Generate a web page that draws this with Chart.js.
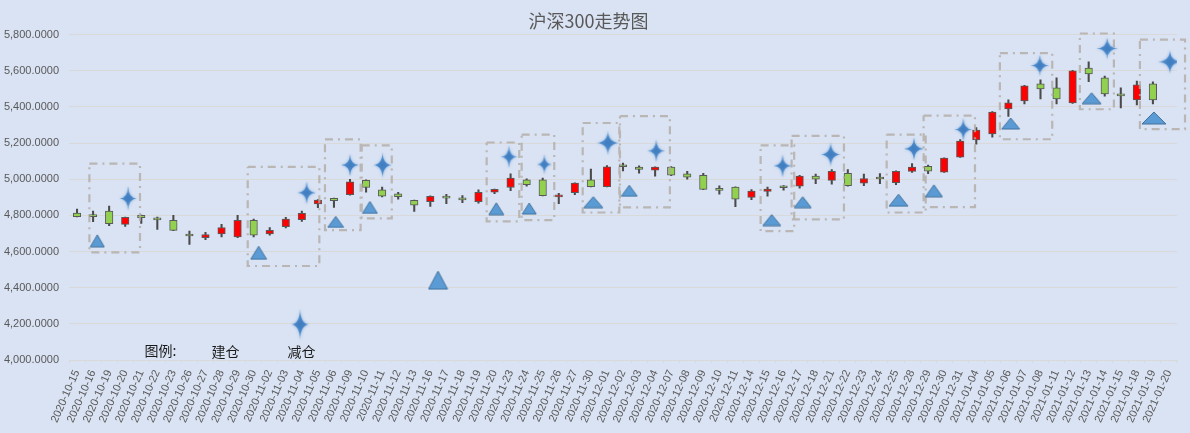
<!DOCTYPE html>
<html>
<head>
<meta charset="utf-8">
<script src="https://cdn.jsdelivr.net/npm/chart.js@4.4.1/dist/chart.umd.min.js"></script>
<style>
  html, body { margin: 0; padding: 0; background: #DAE3F3; }
  canvas { display: block; }
</style>
</head>
<body>
<canvas id="kline" width="1190" height="433"></canvas>
<script>
// trading days
const dates = [
  '2020-10-15','2020-10-16','2020-10-19','2020-10-20','2020-10-21','2020-10-22','2020-10-23','2020-10-26','2020-10-27','2020-10-28','2020-10-29','2020-10-30',
  '2020-11-02','2020-11-03','2020-11-04','2020-11-05','2020-11-06','2020-11-09','2020-11-10','2020-11-11','2020-11-12','2020-11-13','2020-11-16','2020-11-17',
  '2020-11-18','2020-11-19','2020-11-20','2020-11-23','2020-11-24','2020-11-25','2020-11-26','2020-11-27','2020-11-30',
  '2020-12-01','2020-12-02','2020-12-03','2020-12-04','2020-12-07','2020-12-08','2020-12-09','2020-12-10','2020-12-11','2020-12-14','2020-12-15','2020-12-16',
  '2020-12-17','2020-12-18','2020-12-21','2020-12-22','2020-12-23','2020-12-24','2020-12-25','2020-12-28','2020-12-29','2020-12-30','2020-12-31',
  '2021-01-04','2021-01-05','2021-01-06','2021-01-07','2021-01-08','2021-01-11','2021-01-12','2021-01-13','2021-01-14','2021-01-15','2021-01-18','2021-01-19','2021-01-20'
];
const openPx = [4813,4795,4824,4750,4800,4777,4772,4688,4676,4698,4681,4772,4698,4737,4776,4863,4894,4915,4994,4941,4919,4883,4876,4897,
  4888,4876,4928,4954,4996,4996,4902,4926,4996,4959,5071,5067,5050,5067,5030,5022,4940,4956,4900,4933,4955,4961,5017,4994,5033,4978,5003,
  4981,5043,5072,5039,5122,5217,5250,5389,5433,5528,5506,5422,5615,5561,5472,5439,5528,null];
const closePx = [4793,4793,4754,4789,4787,4775,4717,4686,4694,4733,4772,4691,4717,4780,4811,4884,4881,4985,4954,4906,4904,4856,4906,4895,
  4886,4928,4944,5007,4970,4909,4913,4978,4959,5069,5069,5054,5067,5022,5011,4944,4938,4889,4935,4946,4953,5017,5000,5044,4965,5004,5001,
  5044,5067,5044,5117,5211,5272,5372,5422,5517,5500,5444,5600,5583,5472,5461,5522,5439,null];
const highPx = [4835,4824,4852,4791,4802,4791,4800,4713,4706,4750,4800,4780,4733,4789,4824,4888,4896,5000,4996,4957,4928,4885,4908,4917,
  4909,4941,4946,5030,5002,5007,4922,4980,5056,5076,5089,5074,5069,5070,5043,5033,4963,4958,4943,4956,4965,5022,5028,5054,5054,5028,5031,
  5046,5087,5078,5119,5219,5285,5374,5439,5519,5550,5561,5602,5650,5570,5506,5543,5539,null];
const lowPx = [4792,4765,4743,4739,4756,4722,4715,4639,4665,4681,4676,4681,4691,4731,4767,4843,4844,4912,4928,4902,4889,4822,4850,4865,
  4870,4867,4920,4937,4961,4907,4865,4915,4957,4957,5046,5033,5017,5020,5000,4942,4917,4848,4887,4906,4939,4950,4976,4972,4961,4965,4976,
  4970,5037,5031,5037,5120,5194,5233,5348,5417,5444,5417,5420,5539,5459,5394,5411,5417,null];

// 建仓 markers (triangles): position on the day axis (index) and price; last one is the legend sample
const buyIdx = [1.26,11.31,16.11,18.24,26.11,28.16,32.15,34.39,43.26,45.19,51.16,53.36,58.14,63.18,67.06, 22.48];
const buyVal = [4659,4593,4764,4844,4837,4838,4873,4936,4774,4873,4884,4936,5308,5448,5339, 4442];
// 减仓 markers (4-point stars); last one is the legend sample
const sellIdx = [3.18,14.3,17.0,19.03,26.9,29.1,33.06,36.07,43.94,46.93,52.12,55.19,59.96,64.15,68.06, 13.89];
const sellVal = [4894,4925,5078,5078,5124,5082,5201,5157,5074,5137,5168,5275,5629,5723,5649, 4197];

// dash-dot frames around each operation
const boxFrom = [0.77,10.63,15.44,17.73,25.51,27.69,31.49,33.81,42.57,44.5,50.42,52.72,57.47,62.45,66.19];
const boxTo   = [3.92,15.09,17.66,19.6,27.54,29.72,33.77,36.92,44.66,47.76,52.85,55.92,60.73,64.57,69.0];
const boxTop  = [5086,5068,5220,5187,5203,5247,5311,5349,5187,5240,5247,5352,5698,5806,5772];
const boxLow  = [4595,4520,4718,4783,4767,4774,4816,4844,4713,4778,4816,4846,5221,5387,5277];

const yTicks = [4000, 5800, 200];

// marker sizes (style only)
const buyW = [14.3,16,16.3,15,15.3,14,19.3,16,18,16.7,19,16.7,18,19,24, 18.7];
const buyH = [11.7,13.3,10.7,11.7,11.7,11,11,11.3,11.3,11,11.7,12.3,11.3,10.7,12.3, 18];
const sellW = [17,18,18,19,16.7,14.3,22.7,17.7,17.7,20.3,20,18,18.7,21.3,24.3, 18.3];
const sellH = [24.7,22.3,22,26,22.7,20,24.3,22.7,22.3,25,22.3,23,21.3,21.3,23.3, 31.7];

// legend words drawn on the plot
const noteText = ['图例:', '建仓', '减仓'];
const noteIdx = [5.2, 9.25, 13.98];
const noteVal = [4052, 4044, 4044];

function triMark(w, h) {
  const c = document.createElement('canvas');
  c.width = Math.round(w) + 2;
  c.height = Math.round(h) + 2;
  const g = c.getContext('2d');
  g.beginPath();
  g.moveTo(c.width / 2, 1);
  g.lineTo(c.width - 1, c.height - 1);
  g.lineTo(1, c.height - 1);
  g.closePath();
  g.fillStyle = '#5B9BD5';
  g.fill();
  g.strokeStyle = '#41719C';
  g.lineWidth = 1;
  g.stroke();
  return c;
}

function starMark(w, h) {
  const pad = 4;
  const c = document.createElement('canvas');
  c.width = Math.round(w) + pad * 2;
  c.height = Math.round(h) + pad * 2;
  const g = c.getContext('2d');
  const cx = c.width / 2, cy = c.height / 2, rx = w / 2, ry = h / 2, k = 0.03;
  g.beginPath();
  g.moveTo(cx, cy - ry);
  g.quadraticCurveTo(cx + rx * k, cy - ry * k, cx + rx, cy);
  g.quadraticCurveTo(cx + rx * k, cy + ry * k, cx, cy + ry);
  g.quadraticCurveTo(cx - rx * k, cy + ry * k, cx - rx, cy);
  g.quadraticCurveTo(cx - rx * k, cy - ry * k, cx, cy - ry);
  g.closePath();
  const grad = g.createRadialGradient(cx, cy, 0, cx, cy, Math.max(rx, ry));
  grad.addColorStop(0, '#3E7CC0');
  grad.addColorStop(1, '#5A96D2');
  g.shadowColor = 'rgba(90,150,215,0.7)';
  g.shadowBlur = 3;
  g.fillStyle = grad;
  g.fill();
  return c;
}

const bodies = dates.map((d, i) => openPx[i] == null ? null : [openPx[i], closePx[i]]);
const wicks = dates.map((d, i) => lowPx[i] == null ? null : [lowPx[i], highPx[i]]);
const bodyColors = dates.map((d, i) => closePx[i] > openPx[i] ? '#FF0000' : '#92D050');

const buyPoints = buyIdx.map((x, i) => ({ x: x, y: buyVal[i] }));
const sellPoints = sellIdx.map((x, i) => ({ x: x, y: sellVal[i] }));
const boxPoints = [];
boxFrom.forEach((x0, i) => {
  const x1 = boxTo[i], t = boxTop[i], b = boxLow[i];
  boxPoints.push({ x: x0, y: t }, { x: x1, y: t }, { x: x1, y: b }, { x: x0, y: b }, { x: x0, y: t }, { x: x0, y: null });
});

const notesPlugin = {
  id: 'notes',
  afterDatasetsDraw(chart) {
    const ctx = chart.ctx;
    const xs = chart.scales.x2, ys = chart.scales.y;
    ctx.save();
    ctx.font = '14px "Noto Sans CJK SC"';
    ctx.fillStyle = '#1a1a1a';
    ctx.textAlign = 'center';
    ctx.textBaseline = 'middle';
    noteText.forEach((t, i) => {
      ctx.fillText(t, xs.getPixelForValue(noteIdx[i]), ys.getPixelForValue(noteVal[i]));
    });
    ctx.restore();
  }
};

new Chart(document.getElementById('kline'), {
  type: 'bar',
  data: {
    labels: dates,
    datasets: [
      {
        type: 'line', label: '建仓', data: buyPoints, xAxisID: 'x2',
        showLine: false, pointStyle: buyIdx.map((x, i) => triMark(buyW[i], buyH[i])),
        pointRadius: 8, order: 0
      },
      {
        type: 'line', label: '减仓', data: sellPoints, xAxisID: 'x2',
        showLine: false, pointStyle: sellIdx.map((x, i) => starMark(sellW[i], sellH[i])),
        pointRadius: 10, order: 0
      },
      {
        type: 'line', label: 'frame', data: boxPoints, xAxisID: 'x2',
        borderColor: 'rgba(176,170,164,0.8)', borderWidth: 2.2, borderDash: [8, 5, 2, 5],
        pointRadius: 0, spanGaps: false, fill: false, tension: 0, clip: false, order: 1
      },
      {
        label: 'body', data: bodies, backgroundColor: bodyColors, borderColor: '#595959',
        borderWidth: 1, borderSkipped: false, barThickness: 7.5, minBarLength: 2,
        grouped: false, order: 2
      },
      {
        label: 'wick', data: wicks, backgroundColor: '#4a4a4a', borderWidth: 0,
        barThickness: 1.4, grouped: false, order: 3
      }
    ]
  },
  options: {
    responsive: false,
    animation: false,
    layout: { padding: { left: 0, right: 13, top: 0, bottom: 0 } },
    plugins: {
      legend: { display: false },
      tooltip: { enabled: false },
      title: {
        display: true, text: '沪深300走势图', color: '#595959',
        font: { family: '"Noto Sans CJK SC"', size: 18, weight: 'normal' },
        padding: { top: 10, bottom: 3 }
      }
    },
    scales: {
      x: {
        type: 'category',
        offset: true,
        grid: { drawOnChartArea: false, drawTicks: true, tickLength: 3, color: '#D9D9D9' },
        border: { display: true, color: '#D9D9D9' },
        ticks: {
          autoSkip: false, minRotation: 66, maxRotation: 66, padding: 5,
          color: '#595959', font: { family: '"Liberation Sans"', size: 11 }
        },
        afterFit(scale) { scale.height = 73; }
      },
      x2: {
        type: 'linear', axis: 'x', position: 'chartArea', min: -0.5, max: 68.5,
        offset: false, display: false,
        ticks: { display: false }, grid: { display: false, offset: false }
      },
      y: {
        min: yTicks[0], max: yTicks[1],
        grid: { color: '#D9D9D9', drawTicks: false },
        border: { display: false },
        ticks: {
          stepSize: yTicks[2], padding: 10, color: '#595959',
          font: { family: '"Liberation Sans"', size: 11 },
          callback: v => v.toLocaleString('en-US', { minimumFractionDigits: 4, maximumFractionDigits: 4 })
        },
        afterFit(scale) { scale.width = 69; }
      }
    }
  },
  plugins: [notesPlugin]
});
</script>
</body>
</html>
